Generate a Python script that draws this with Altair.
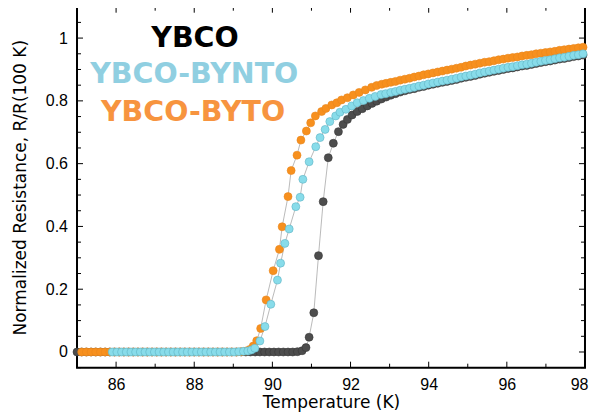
import altair as alt
import pandas as pd

# ---------------- data ----------------
high_T = [93.03, 93.15, 93.27, 93.39, 93.51, 93.63, 93.75, 93.87, 93.99, 94.11,
          94.23, 94.35, 94.47, 94.59, 94.71, 94.83, 94.95, 95.07, 95.19, 95.31,
          95.43, 95.55, 95.67, 95.79, 95.91, 96.03, 96.15, 96.27, 96.39, 96.51,
          96.63, 96.75, 96.87, 96.99, 97.11, 97.23, 97.35, 97.47, 97.59, 97.71,
          97.83, 97.95]

ybco_T = [85.00, 85.12, 85.24, 85.36, 85.48, 85.60, 85.72, 85.84, 85.96, 86.08,
          86.20, 86.32, 86.44, 86.56, 86.68, 86.80, 86.92, 87.04, 87.16, 87.28,
          87.40, 87.52, 87.64, 87.76, 87.88, 88.00, 88.12, 88.24, 88.36, 88.48,
          88.60, 88.72, 88.84, 88.96, 89.08, 89.20, 89.32, 89.44, 89.56, 89.68,
          89.80, 89.92, 90.04, 90.16, 90.28, 90.40, 90.52, 90.64, 90.76,
          90.86, 90.94, 91.06, 91.18, 91.30, 91.43, 91.56, 91.69, 91.81, 91.92,
          92.04, 92.17, 92.30, 92.43, 92.55, 92.67, 92.79, 92.91] + high_T
ybco_R = [0, 0, 0, 0, 0, 0, 0, 0, 0, 0,
          0, 0, 0, 0, 0, 0, 0, 0, 0, 0,
          0, 0, 0, 0, 0, 0, 0, 0, 0, 0,
          0, 0, 0, 0, 0, 0, 0, 0, 0, 0,
          0, 0, 0, 0, 0, 0, 0, 0.001, 0.004,
          0.014, 0.047, 0.125, 0.307, 0.479, 0.619, 0.665, 0.702, 0.725, 0.741,
          0.755, 0.766, 0.775, 0.784, 0.792, 0.799, 0.806, 0.812,
          0.818, 0.823, 0.828, 0.832, 0.836, 0.839, 0.843, 0.846, 0.850, 0.853,
          0.856, 0.859, 0.862, 0.865, 0.868, 0.872, 0.875, 0.878, 0.881, 0.885,
          0.888, 0.891, 0.894, 0.897, 0.900, 0.903, 0.905, 0.908, 0.911, 0.913,
          0.916, 0.919, 0.922, 0.925, 0.927, 0.930, 0.933, 0.935, 0.938, 0.941,
          0.943, 0.946]

byto_T = [85.12, 85.24, 85.36, 85.48, 85.60, 85.72, 85.84, 85.96, 86.08, 86.20,
          86.32, 86.44, 86.56, 86.68, 86.80, 86.92, 87.04, 87.16, 87.28, 87.40,
          87.52, 87.64, 87.76, 87.88, 88.00, 88.12, 88.24, 88.36, 88.48, 88.60,
          88.72, 88.84, 88.96, 89.08, 89.20, 89.32,
          89.42, 89.51, 89.60, 89.70, 89.84, 90.02, 90.18, 90.25, 90.40, 90.48,
          90.63, 90.73, 90.87, 90.98, 91.10, 91.26, 91.37, 91.52, 91.65, 91.77,
          91.92, 92.07, 92.22, 92.38, 92.54, 92.67, 92.80, 92.91] + high_T
byto_R = [0, 0, 0, 0, 0, 0, 0, 0, 0, 0,
          0, 0, 0, 0, 0, 0, 0, 0, 0, 0,
          0, 0, 0, 0, 0, 0, 0, 0, 0, 0,
          0, 0, 0, 0, 0.001, 0.003,
          0.008, 0.019, 0.036, 0.075, 0.166, 0.259, 0.327, 0.399, 0.495, 0.578,
          0.627, 0.675, 0.704, 0.730, 0.752, 0.766, 0.776, 0.787, 0.794, 0.803,
          0.810, 0.819, 0.827, 0.835, 0.843, 0.849, 0.853, 0.856,
          0.859, 0.862, 0.866, 0.869, 0.872, 0.876, 0.879, 0.883, 0.886, 0.889,
          0.892, 0.895, 0.898, 0.901, 0.904, 0.907, 0.911, 0.914, 0.917, 0.920,
          0.923, 0.925, 0.928, 0.931, 0.933, 0.936, 0.938, 0.940, 0.943, 0.945,
          0.947, 0.950, 0.952, 0.954, 0.956, 0.958, 0.961, 0.963, 0.965, 0.967,
          0.969, 0.971]

bynto_T = [85.90, 86.02, 86.14, 86.26, 86.38, 86.50, 86.62, 86.74, 86.86, 86.98,
           87.10, 87.22, 87.34, 87.46, 87.58, 87.70, 87.82, 87.94, 88.06, 88.18,
           88.30, 88.42, 88.54, 88.66, 88.78, 88.90, 89.02, 89.14, 89.26,
           89.37, 89.46, 89.55, 89.68, 89.81, 89.96, 90.13, 90.21, 90.32, 90.43,
           90.60, 90.71, 90.78, 90.94, 91.11, 91.22, 91.35, 91.47, 91.62, 91.73,
           91.88, 92.03, 92.17, 92.33, 92.48, 92.63, 92.78, 92.90] + high_T
bynto_R = [0, 0, 0, 0, 0, 0, 0, 0, 0, 0,
           0, 0, 0, 0, 0, 0, 0, 0, 0, 0,
           0, 0, 0, 0, 0, 0, 0, 0.001, 0.002,
           0.003, 0.006, 0.012, 0.035, 0.081, 0.152, 0.229, 0.283, 0.346, 0.392,
           0.463, 0.493, 0.550, 0.606, 0.654, 0.683, 0.709, 0.734, 0.752, 0.764,
           0.773, 0.784, 0.794, 0.801, 0.808, 0.814, 0.820, 0.823,
           0.827, 0.830, 0.834, 0.837, 0.840, 0.843, 0.847, 0.850, 0.854, 0.857,
           0.860, 0.863, 0.866, 0.869, 0.872, 0.876, 0.879, 0.882, 0.885, 0.889,
           0.892, 0.895, 0.898, 0.901, 0.904, 0.907, 0.909, 0.912, 0.915, 0.917,
           0.920, 0.923, 0.926, 0.929, 0.931, 0.934, 0.937, 0.939, 0.942, 0.945,
           0.947, 0.950]

x_label_ticks = [86, 88, 90, 92, 94, 96, 98]
x_minor_ticks = [85, 87, 89, 91, 93, 95, 97]
y_label_ticks = [0, 0.2, 0.4, 0.6, 0.8, 1]
y_minor_ticks = [-0.05, 0.05, 0.1, 0.15, 0.25, 0.3, 0.35, 0.45, 0.5, 0.55,
                 0.65, 0.7, 0.75, 0.85, 0.9, 0.95, 1.05]

labels = ["YBCO", "YBCO-BYNTO", "YBCO-BYTO"]
label_x = [88.02, 88.0, 87.97]
label_y = [0.9726, 0.856, 0.737]
label_colors = ["#000000", "#90cfe1", "#f7943f"]

# ---------------- build tables ----------------
def frame(name, T, R):
    return pd.DataFrame({"T": T, "R": R, "series": name, "idx": list(range(len(T)))})

d_ybco = frame("YBCO", ybco_T, ybco_R)
d_byto = frame("YBCO-BYTO", byto_T, byto_R)
d_bynto = frame("YBCO-BYNTO", bynto_T, bynto_R)
df = pd.concat([d_ybco, d_byto, d_bynto], ignore_index=True)

W, H = 508, 361
xs = alt.Scale(domain=[85, 98], nice=False, zero=False)
ys = alt.Scale(domain=[-0.05, 1.1], nice=False, zero=False)

x_axis = alt.Axis(values=x_label_ticks, title="Temperature (K)", grid=False, domain=False,
                  ticks=False, tickSize=0, labelPadding=9, labelFlush=1, labelFlushOffset=3,
                  labelFont="Liberation Sans", labelFontSize=16, labelColor="black",
                  titleFont="DejaVu Sans", titleFontSize=17, titleFontWeight="normal",
                  titleColor="black", titleBaseline="alphabetic", titleY=40)
y_axis = alt.Axis(values=y_label_ticks, format="~g", title="Normalized Resistance, R/R(100 K)",
                  grid=False, domain=False, ticks=False, tickSize=0, labelPadding=9.5,
                  labelFont="Liberation Sans", labelFontSize=16, labelColor="black",
                  titleFont="DejaVu Sans", titleFontSize=17, titleFontWeight="normal",
                  titleColor="black", titleBaseline="alphabetic", titleX=-52)

X = lambda f: alt.X(f, scale=xs, axis=x_axis)
Y = lambda f: alt.Y(f, scale=ys, axis=y_axis)

# ticks (inward, all four sides)
def xticks(vals, length, top):
    d = pd.DataFrame({"T": vals})
    y0 = 0 if top else H
    y1 = length if top else H - length
    return alt.Chart(d).mark_rule(color="black", strokeWidth=1).encode(
        x=X("T:Q"), y=alt.value(y0), y2=alt.value(y1))

def yticks(vals, length, right):
    d = pd.DataFrame({"R": vals})
    x0 = W if right else 0
    x1 = W - length if right else length
    return alt.Chart(d).mark_rule(color="black", strokeWidth=1).encode(
        y=Y("R:Q"), x=alt.value(x0), x2=alt.value(x1))

tick_layers = [
    xticks(x_label_ticks, 6, False), xticks(x_minor_ticks, 4, False),
    xticks(x_label_ticks, 6, True), xticks(x_minor_ticks, 4, True),
    yticks(y_label_ticks, 6, False), yticks(y_minor_ticks, 4, False),
    yticks(y_label_ticks, 6, True), yticks(y_minor_ticks, 4, True),
]

lines = alt.Chart(df).mark_line(color="#a8a8a8", strokeWidth=0.8).encode(
    x=X("T:Q"), y=Y("R:Q"), detail="series:N", order="idx:Q",
)

def points(d, fill, stroke):
    return alt.Chart(d).mark_circle(size=64, color=fill, stroke=stroke, strokeWidth=0.6,
                                    opacity=1).encode(x=X("T:Q"), y=Y("R:Q"))

p_ybco = points(d_ybco, "#4d4d4d", "#383838")
p_byto = points(d_byto, "#f7901e", "#ea861c")
p_bynto = points(d_bynto, "#88dcea", "#5fb3c4")

lab_df = pd.DataFrame({"T": label_x, "R": label_y, "text": labels, "c": label_colors})
texts = alt.Chart(lab_df).mark_text(font="DejaVu Sans", fontWeight="bold", fontSize=28.5,
                                    baseline="alphabetic", align="center").encode(
    x=X("T:Q"), y=Y("R:Q"), text="text:N", color=alt.Color("c:N", scale=None),
)

chart = alt.layer(*tick_layers, lines, p_ybco, p_byto, p_bynto, texts).properties(
    width=W, height=H,
    autosize=alt.AutoSizeParams(type="none"),
    padding={"left": 69, "top": -1.3, "right": 4, "bottom": 46},
).configure_view(stroke="black", strokeWidth=2)

chart.save("out.html", embed_options={"renderer": "svg", "actions": False})
